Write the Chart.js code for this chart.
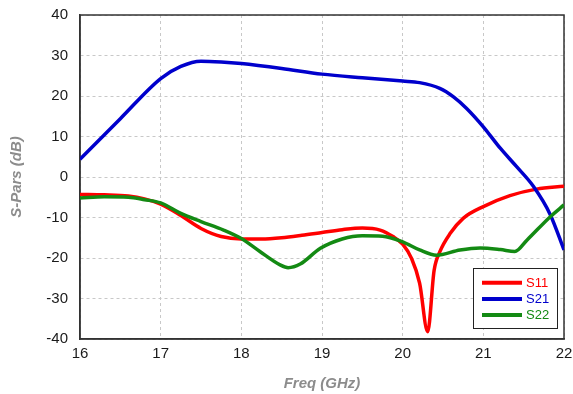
<!DOCTYPE html>
<html>
<head>
<meta charset="utf-8">
<script src="https://cdn.jsdelivr.net/npm/chart.js@4.4.1/dist/chart.umd.min.js"></script>
<style>
html, body { margin: 0; padding: 0; background: #fff; }
</style>
</head>
<body>
<canvas id="my-graph" width="573" height="394"></canvas>
<script>
// Values
const freq_s11 = [16, 16.3, 16.6, 16.8, 17, 17.25, 17.5, 17.75, 18, 18.25, 18.5, 18.75, 19, 19.25, 19.5, 19.72, 19.88, 20, 20.11, 20.21, 20.31, 20.39, 20.46, 20.59, 20.75, 21, 21.33, 21.66, 22];
const s11_values = [-4.3, -4.4, -4.7, -5.4, -6.7, -9.5, -12.7, -14.7, -15.3, -15.3, -15.0, -14.4, -13.7, -13.0, -12.6, -13.1, -14.7, -16.6, -20.1, -26.2, -38.2, -23, -18.5, -13.9, -10.2, -7.3, -4.6, -3.0, -2.3];

const freq_s21 = [16, 16.5, 17, 17.25, 17.5, 17.75, 18, 18.5, 19, 19.5, 20, 20.21, 20.46, 20.63, 20.79, 21, 21.21, 21.41, 21.62, 21.83, 22];
const s21_values = [4.4, 14.4, 24.3, 27.3, 28.6, 28.4, 28.0, 26.8, 25.4, 24.5, 23.7, 23.3, 21.9, 19.8, 17.0, 12.4, 7.1, 2.6, -2.3, -9.3, -18];

const freq_s22 = [16, 16.3, 16.6, 16.8, 17, 17.25, 17.5, 17.78, 18, 18.23, 18.48, 18.58, 18.73, 18.98, 19.25, 19.5, 19.75, 20, 20.21, 20.42, 20.71, 20.96, 21.21, 21.39, 21.54, 21.83, 22];
const s22_values = [-5.2, -4.9, -5.0, -5.6, -6.4, -9.0, -11.0, -13.1, -15.2, -18.4, -21.7, -22.4, -21.5, -17.6, -15.3, -14.5, -14.6, -16, -18, -19.3, -18, -17.5, -17.9, -18.4, -15.6, -9.8, -6.9];

const series_names = ["S11", "S21", "S22"];
const series_colors = ["#ff0000", "#0000cc", "#138a13"];

const x_ticks = [16, 17, 18, 19, 20, 21, 22];
const y_ticks = [-40, -30, -20, -10, 0, 10, 20, 30, 40];

function to_points(xs, ys) {
    return xs.map((x, i) => ({ x: x, y: ys[i] }));
}

Chart.defaults.font.family = "'Liberation Sans', Arial, sans-serif";

// frame around the plot (top and right sides too)
const frame_plugin = {
    id: "frame",
    beforeDatasetsDraw(chart) {
        const { ctx, chartArea } = chart;
        ctx.save();
        ctx.strokeStyle = "#333";
        ctx.lineWidth = 1.5;
        ctx.strokeRect(chartArea.left, chartArea.top, chartArea.right - chartArea.left, chartArea.bottom - chartArea.top);
        ctx.restore();
    }
};

// boxed legend in the lower right corner
const legend_plugin = {
    id: "boxLegend",
    afterDraw(chart) {
        const { ctx, chartArea } = chart;
        const box_w = 84, box_h = 60;
        const left = chartArea.right - 7 - box_w;
        const top = chartArea.bottom - 11 - box_h;
        ctx.save();
        ctx.fillStyle = "#fff";
        ctx.fillRect(left, top, box_w, box_h);
        ctx.strokeStyle = "#222";
        ctx.lineWidth = 1;
        ctx.strokeRect(left + 0.5, top + 0.5, box_w, box_h);
        ctx.font = "13px 'Liberation Sans', Arial, sans-serif";
        ctx.textBaseline = "middle";
        chart.data.datasets.forEach((ds, i) => {
            const y = top + 14.7 + i * 16.2;
            ctx.strokeStyle = ds.borderColor;
            ctx.lineWidth = 4;
            ctx.beginPath();
            ctx.moveTo(left + 9, y);
            ctx.lineTo(left + 49, y);
            ctx.stroke();
            ctx.fillStyle = ds.borderColor;
            ctx.fillText(ds.label, left + 53, y + 0.5);
        });
        ctx.restore();
    }
};

const title_font = { size: 15, style: "italic", weight: "bold" };

const my_chart = new Chart("my-graph", {
    type: "line",
    data: {
        datasets: [
            { label: series_names[0], data: to_points(freq_s11, s11_values), borderColor: series_colors[0], order: 3 },
            { label: series_names[1], data: to_points(freq_s21, s21_values), borderColor: series_colors[1], order: 2 },
            { label: series_names[2], data: to_points(freq_s22, s22_values), borderColor: series_colors[2], order: 1 }
        ]
    },
    options: {
        responsive: false,
        animation: false,
        layout: { padding: { left: 0, right: 9, top: 15, bottom: 0 } },
        elements: {
            line: { borderWidth: 3.5, cubicInterpolationMode: "monotone", fill: false },
            point: { radius: 0 }
        },
        plugins: {
            legend: { display: false },
            tooltip: { enabled: false }
        },
        scales: {
            x: {
                type: "linear",
                min: 16,
                max: 22,
                afterFit(scale) {
                    scale.height = 55;
                    scale.paddingLeft = 0;
                    scale.paddingRight = 0;
                },
                afterBuildTicks(scale) { scale.ticks = x_ticks.map(v => ({ value: v })); },
                grid: { color: "#c8c8c8", lineWidth: 1, drawTicks: false },
                border: { display: true, color: "#333", width: 1.5, dash: [3, 3] },
                ticks: { color: "#1a1a1a", font: { size: 15 }, padding: 6, maxRotation: 0 },
                title: { display: true, text: "Freq (GHz)", color: "#8c8c8c", font: title_font, padding: { top: 0, bottom: 1 } }
            },
            y: {
                type: "linear",
                min: -40,
                max: 40,
                afterFit(scale) {
                    scale.width = 80;
                    scale.paddingTop = 0;
                    scale.paddingBottom = 0;
                },
                afterBuildTicks(scale) { scale.ticks = y_ticks.map(v => ({ value: v })); },
                grid: { color: "#c8c8c8", lineWidth: 1, drawTicks: false },
                border: { display: true, color: "#333", width: 1.5, dash: [3, 3] },
                ticks: { color: "#1a1a1a", font: { size: 15 }, padding: 12 },
                title: { display: true, text: "S-Pars (dB)", color: "#8c8c8c", font: title_font, padding: { top: 8, bottom: 0 } }
            }
        }
    },
    plugins: [frame_plugin, legend_plugin]
});
</script>
</body>
</html>
